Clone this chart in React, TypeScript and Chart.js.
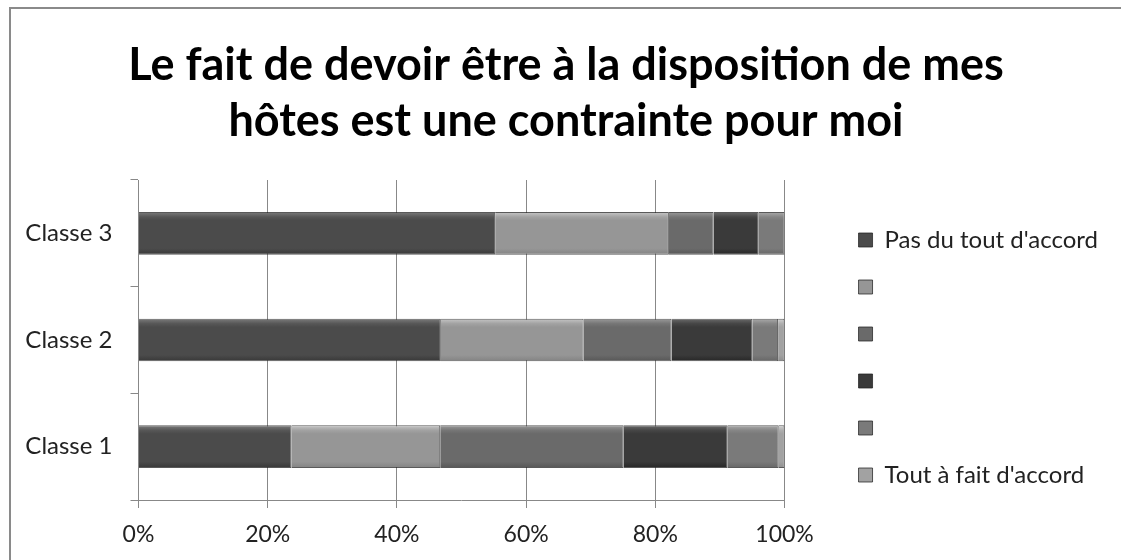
import React, { useEffect, useRef } from "react";
import { Chart, registerables } from "chart.js";

Chart.register(...registerables);

const TITLE_LINES = ["Le fait de devoir être à la disposition de mes", "hôtes est une contrainte pour moi"];
const CATEGORIES = ["Classe 1", "Classe 2", "Classe 3"];
const SERIES_LABELS = ["Pas du tout d'accord", "", "", "", "", "Tout à fait d'accord"];
const S1 = [23.7, 46.8, 55.2];
const S2 = [23.0, 22.1, 26.9];
const S3 = [28.4, 13.6, 6.9];
const S4 = [16.1, 12.5, 7.0];
const S5 = [7.9, 4.0, 4.0];
const S6 = [0.9, 1.0, 0.0];
const SERIES = [S1, S2, S3, S4, S5, S6];
const COLORS = ["#4b4b4b", "#969696", "#6a6a6a", "#3a3a3a", "#7a7a7a", "#a2a2a2"];
const X_TICKS = [0, 20, 40, 60, 80, 100];

const FONT = "Lato, 'Open Sans', sans-serif";

function shade(hex: string, amt: number) {
  const n = parseInt(hex.slice(1), 16);
  const c = (v: number) => Math.max(0, Math.min(255, Math.round(v + amt)));
  const r = c((n >> 16) & 255), g = c((n >> 8) & 255), b = c(n & 255);
  return `rgb(${r},${g},${b})`;
}

export default function App() {
  const ref = useRef<HTMLCanvasElement | null>(null);
  useEffect(() => {
    if (!ref.current) return;
    const chart = new Chart(ref.current, {
      type: "bar",
      data: {
        labels: CATEGORIES,
        datasets: SERIES.map((s, i) => ({
          label: SERIES_LABELS[i],
          data: s,
          backgroundColor: (ctx: any) => {
            const base = COLORS[i];
            if (ctx.type !== "data") return base;
            const yScale = ctx.chart.scales && ctx.chart.scales.y;
            if (!yScale) return base;
            const cy = yScale.getPixelForValue(ctx.dataIndex);
            if (!isFinite(cy)) return base;
            const h = 21.5;
            const g = ctx.chart.ctx.createLinearGradient(0, cy - h, 0, cy + h);
            g.addColorStop(0, shade(base, 50));
            g.addColorStop(0.12, shade(base, 12));
            g.addColorStop(0.2, base);
            g.addColorStop(0.85, base);
            g.addColorStop(1, shade(base, -20));
            return g;
          },
          borderColor: "rgba(35,35,35,0.75)",
          borderWidth: 1,
          barPercentage: 0.4,
          categoryPercentage: 1,
        })),
      },
      options: {
        indexAxis: "y",
        animation: false,
        responsive: false,
        maintainAspectRatio: false,
        layout: { padding: { left: 24, right: 13, top: 0, bottom: 0 } },
        plugins: {
          tooltip: { enabled: false },
          title: {
            display: true,
            text: TITLE_LINES,
            color: "#000",
            font: { family: FONT, size: 45, weight: "bold", lineHeight: 1.24 },
            padding: { top: 38, bottom: 30.4 },
          },
          legend: {
            position: "right",
            align: "start",
            fullSize: true,
            maxWidth: 400,
            title: { display: true, text: "", font: { size: 10, lineHeight: 1.2 }, padding: { top: 193, bottom: 0 } },
            labels: {
              color: "#222",
              font: { family: FONT, size: 24 },
              boxWidth: 14,
              boxHeight: 14,
              padding: 23,
              generateLabels: (ch: any) =>
                ch.data.datasets.map((ds: any, i: number) => ({
                  text: ds.label,
                  fillStyle: COLORS[i],
                  strokeStyle: "rgba(35,35,35,0.75)",
                  lineWidth: 1,
                  fontColor: "#222",
                  hidden: false,
                  datasetIndex: i,
                })),
            },
          },
        },
        scales: {
          x: {
            stacked: true,
            min: 0,
            max: 100,
            afterBuildTicks: (s: any) => {
              s.ticks = X_TICKS.map((v) => ({ value: v }));
            },
            afterFit: (s: any) => {
              s.height = 60;
            },
            ticks: {
              color: "#222",
              font: { family: FONT, size: 23 },
              padding: 13,
              callback: (v: any) => v + "%",
            },
            grid: { color: "#888", lineWidth: 1, tickLength: 8, drawTicks: true },
            border: { color: "#888", width: 1 },
          },
          y: {
            stacked: true,
            reverse: true,
            afterFit: (s: any) => {
              s.width = 114.5;
            },
            ticks: {
              color: "#222",
              font: { family: FONT, size: 24 },
              padding: 18,
            },
            grid: { drawOnChartArea: false, color: "#888", tickLength: 8, offset: true },
            border: { color: "#888", width: 1 },
          },
          spacer: {
            type: "linear",
            position: "right",
            display: true,
            afterFit: (s: any) => {
              s.width = 51;
            },
            ticks: { display: false },
            grid: { display: false },
            border: { display: false },
          },
        },
      },
    } as any);
    return () => chart.destroy();
  }, []);
  return (
    <div style={{ position: "fixed", left: 0, top: 0, width: 1121, height: 560, overflow: "hidden", background: "#fff" }}>
      <div
        style={{
          position: "absolute",
          left: 9,
          top: 7,
          width: 1200,
          height: 700,
          border: "2px solid #8a8a8a",
          boxSizing: "border-box",
        }}
      />
      <canvas ref={ref} width={1121} height={560} style={{ position: "absolute", left: 0, top: 0, width: 1121, height: 560 }} />
    </div>
  );
}
